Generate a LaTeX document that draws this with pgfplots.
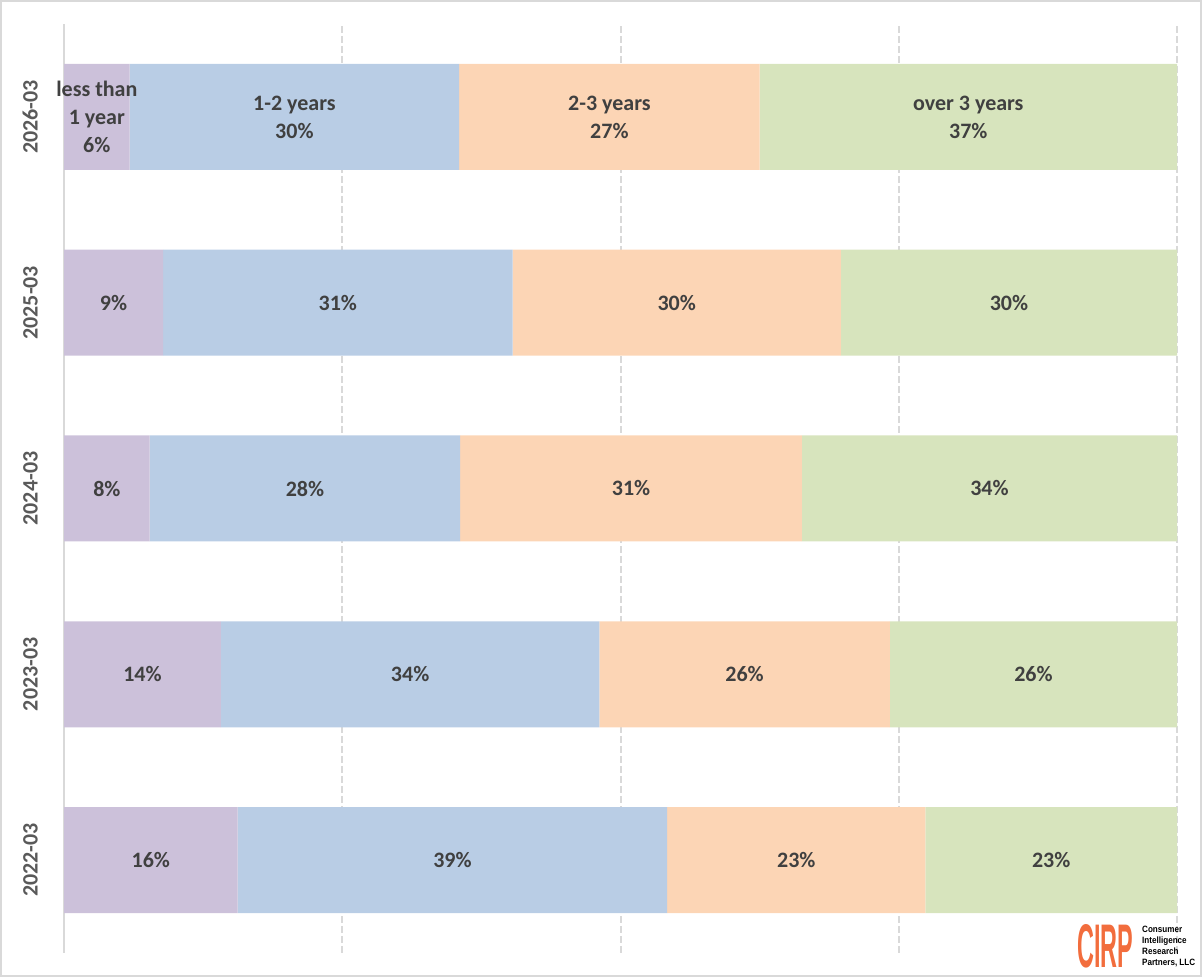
\documentclass[border=0pt]{standalone}
\usepackage{graphicx}
\usepackage{pgfplots}
\pgfplotsset{compat=1.18}
\usepackage{fontspec}
\setmainfont{Carlito}
\newfontfamily\logofont{Liberation Sans}
\definecolor{cpurple}{HTML}{CCC1DA}
\definecolor{cblue}{HTML}{B9CDE5}
\definecolor{cpeach}{HTML}{FCD5B5}
\definecolor{cgreen}{HTML}{D7E4BD}
\definecolor{gridgray}{HTML}{D9D9D9}
\definecolor{framegray}{HTML}{D9D9D9}
\definecolor{labelgray}{HTML}{595959}
\definecolor{datagray}{HTML}{404040}
\definecolor{cirporange}{HTML}{F26D3D}
\begin{document}
\begin{tikzpicture}[x=1pt,y=1pt]
\useasboundingbox (0,0) rectangle (1202,977);
\draw[framegray, line width=2pt] (1,1) rectangle (1201,976);
\begin{axis}[
  at={(64pt,24pt)}, anchor=south west,
  scale only axis, width=1113pt, height=929pt,
  xbar stacked, bar width=106pt,
  xmin=0, xmax=100, ymin=-0.5, ymax=4.5,
  xtick={25,50,75,100}, xticklabels={},
  xmajorgrids,
  grid style={gridgray, line width=2pt, dash pattern=on 7pt off 3pt},
  extra x ticks={0}, extra x tick labels={},
  extra x tick style={grid style={solid, gridgray, line width=2pt}},
  ytick={0,1,2,3,4},
  yticklabels={2022-03,2023-03,2024-03,2025-03,2026-03},
  yticklabel style={rotate=90, anchor=south, inner ysep=26pt,
    font=\fontsize{22}{26}\selectfont\bfseries, text=labelgray},
  major tick length=0pt,
  axis line style={draw=none},
  nodes near coords, point meta=explicit symbolic,
  every node near coord/.append style={font=\fontsize{22}{28}\selectfont\bfseries,
    text=datagray, align=center},
  clip=false,
]
\addplot[fill=cpurple, draw=none] coordinates {
  (15.6,0) [16\%] (14.1,1) [14\%] (7.7,2) [8\%] (8.9,3) [9\%]
  (5.9,4) [{less than\\1 year\\6\%}] };
\addplot[fill=cblue, draw=none] coordinates {
  (38.6,0) [39\%] (34.0,1) [34\%] (27.9,2) [28\%] (31.4,3) [31\%]
  (29.6,4) [{1-2 years\\30\%}] };
\addplot[fill=cpeach, draw=none] coordinates {
  (23.2,0) [23\%] (26.1,1) [26\%] (30.7,2) [31\%] (29.5,3) [30\%]
  (27.0,4) [{2-3 years\\27\%}] };
\addplot[fill=cgreen, draw=none] coordinates {
  (22.6,0) [23\%] (25.8,1) [26\%] (33.7,2) [34\%] (30.2,3) [30\%]
  (37.5,4) [{over 3 years\\37\%}] };
\end{axis}
\node[anchor=south west, inner sep=0pt, text=cirporange] at (1077,9)
  {\resizebox{56pt}{43pt}{\logofont\bfseries CIRP}};
\node[anchor=south west, inner sep=0pt, text=black] at (1142,8)
  {\resizebox*{53pt}{44pt}{\logofont\bfseries\begin{tabular}{@{}l@{}}Consumer\\Intelligence\\Research\\Partners, LLC\end{tabular}}};
\end{tikzpicture}
\end{document}
